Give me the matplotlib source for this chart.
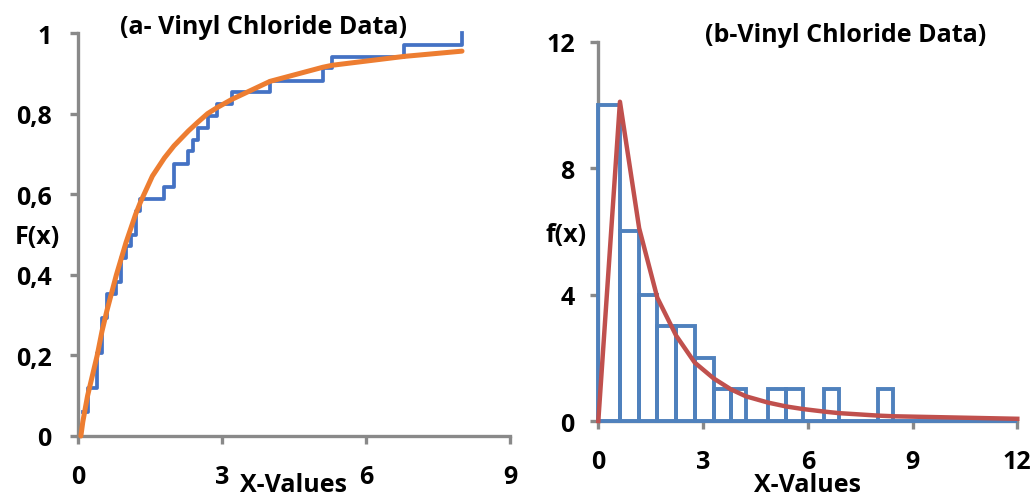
import matplotlib.pyplot as plt

plt.rcParams['font.family'] = ['Open Sans', 'DejaVu Sans']
plt.rcParams['font.weight'] = 'bold'

# empirical CDF of the vinyl chloride data (unique sorted values)
ecdf_x = [0.1, 0.2, 0.4, 0.5, 0.6, 0.8, 0.9, 1.0, 1.1, 1.2, 1.3, 1.8, 2.0,
          2.3, 2.4, 2.5, 2.7, 2.9, 3.2, 4.0, 5.1, 5.3, 6.8, 8.0]
ecdf_y = [0.059, 0.118, 0.206, 0.294, 0.353, 0.382, 0.441, 0.471, 0.500,
          0.559, 0.588, 0.618, 0.676, 0.706, 0.735, 0.765, 0.794, 0.824,
          0.853, 0.882, 0.912, 0.941, 0.971, 1.0]

# fitted CDF
fit_x = [0.06, 0.1, 0.2, 0.4, 0.5, 0.6, 0.8, 0.9, 1.0, 1.1, 1.2, 1.3, 1.55,
         1.8, 2.0, 2.3, 2.4, 2.5, 2.7, 2.9, 3.2, 4.0, 5.1, 5.3, 6.8, 8.0]
fit_F = [0.0, 0.035, 0.10, 0.20, 0.26, 0.31, 0.40, 0.44, 0.48, 0.515, 0.55,
         0.58, 0.645, 0.69, 0.72, 0.757, 0.768, 0.779, 0.80, 0.815, 0.835,
         0.88, 0.915, 0.92, 0.942, 0.955]

# histogram
bin_edges = [0, 0.62, 1.17, 1.69, 2.23, 2.76, 3.3, 3.8, 4.23, 4.87, 5.38,
             5.85, 6.45, 6.88, 8.02, 8.45, 12.0]
counts = [10, 6, 4, 3, 3, 2, 1, 1, 0, 1, 1, 0, 1, 0, 1, 0]

# fitted density
pdf_x = [0, 0.62, 1.17, 1.69, 2.23, 2.76, 3.3, 3.8, 4.23, 4.87, 5.38, 5.85,
         6.45, 6.88, 8.02, 8.45, 12.0]
pdf_y = [0, 10.1, 6.1, 3.9, 2.7, 1.85, 1.35, 1.0, 0.78, 0.58, 0.46, 0.38,
         0.30, 0.25, 0.17, 0.15, 0.07]

grey = '#898989'
W, H = 1035, 502
fig = plt.figure(figsize=(W / 100, H / 100), dpi=100)


def style(ax, ypad, xpad):
    for s in ['top', 'right']:
        ax.spines[s].set_visible(False)
    for s in ['left', 'bottom']:
        ax.spines[s].set_color(grey)
        ax.spines[s].set_linewidth(2.4)
        ax.spines[s].set_zorder(1)
    ax.tick_params(axis='both', color=grey, width=2.4, length=6,
                   labelsize=18)
    ax.tick_params(axis='y', pad=ypad)
    ax.tick_params(axis='x', pad=xpad)
    for lab in ax.get_xticklabels() + ax.get_yticklabels():
        lab.set_fontweight('bold')


# ---- panel (a)
ax1 = fig.add_axes([78 / W, 1 - 437 / H, 432 / W, 403 / H])
ax1.step(ecdf_x, ecdf_y, where='post', color='#4472C4', lw=2.7,
         zorder=3, clip_on=False)
ax1.plot(fit_x, fit_F, color='#ED7D31', lw=3.6, zorder=4, clip_on=False,
         solid_capstyle='round', solid_joinstyle='round')
ax1.set_xlim(0, 9)
ax1.set_ylim(0, 1)
ax1.set_xticks([0, 3, 6, 9])
ax1.set_yticks([0, 0.2, 0.4, 0.6, 0.8, 1])
ax1.set_yticklabels(['0', '0,2', '0,4', '0,6', '0,8', '1'])
style(ax1, 13, 14)

# ---- panel (b)
ax2 = fig.add_axes([598.3 / W, 1 - 422 / H, 419 / W, 379.3 / H])
widths = [b - a for a, b in zip(bin_edges[:-1], bin_edges[1:])]
ax2.bar(bin_edges[:-1], counts, width=widths, align='edge', fill=False,
        edgecolor='#4F81BD', linewidth=2.8, zorder=3, clip_on=False)
ax2.plot(pdf_x, pdf_y, color='#C0504D', lw=3.2, zorder=4, clip_on=False,
         solid_joinstyle='round')
ax2.set_xlim(0, 12)
ax2.set_ylim(0, 12)
ax2.set_xticks([0, 3, 6, 9, 12])
ax2.set_yticks([0, 4, 8, 12])
style(ax2, 11, 14)

# ---- titles and axis labels
kw = dict(fontsize=18, fontweight='bold', ha='center', va='center')
fig.text(263 / W, 1 - 28 / H, '(a- Vinyl Chloride Data)', **kw)
fig.text(846 / W, 1 - 36 / H, '(b-Vinyl Chloride Data)', **kw)
fig.text(37 / W, 1 - 237 / H, 'F(x)', **kw)
fig.text(566 / W, 1 - 236 / H, 'f(x)', **kw)
fig.text(293 / W, 1 - 486 / H, 'X-Values', **kw)
fig.text(807 / W, 1 - 486 / H, 'X-Values', **kw)

fig.savefig('out.png', dpi=100)
